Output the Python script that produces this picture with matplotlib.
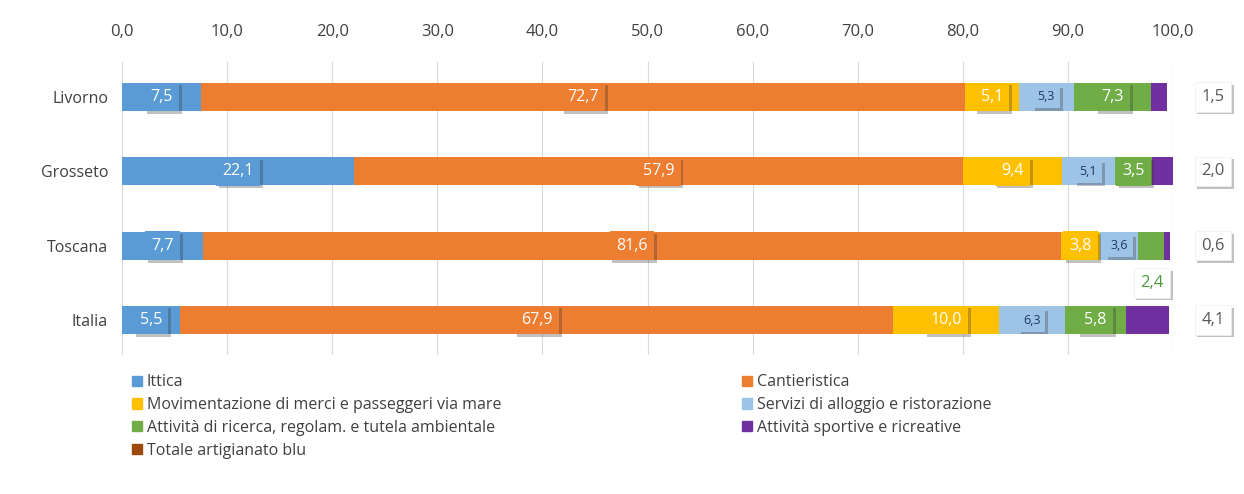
import matplotlib
matplotlib.use("Agg")
import matplotlib.pyplot as plt
import matplotlib.patheffects as pe
from matplotlib.patches import Patch

plt.rcParams['font.family'] = ['Open Sans', 'DejaVu Sans']

categories = ["Livorno", "Grosseto", "Toscana", "Italia"]
series_names = ["Ittica", "Cantieristica", "Movimentazione di merci e passeggeri via mare",
                "Servizi di alloggio e ristorazione", "Attività di ricerca, regolam. e tutela ambientale",
                "Attività sportive e ricreative", "Totale artigianato blu"]
ittica = [7.5, 22.1, 7.7, 5.5]
cantieristica = [72.7, 57.9, 81.6, 67.9]
movimentazione = [5.1, 9.4, 3.8, 10.0]
servizi = [5.3, 5.1, 3.6, 6.3]
ricerca = [7.3, 3.5, 2.4, 5.8]
sportive = [1.5, 2.0, 0.6, 4.1]
totale = [0.0, 0.0, 0.0, 0.0]
xticks = [0, 10, 20, 30, 40, 50, 60, 70, 80, 90, 100]

colors = ["#5B9BD5", "#ED7D31", "#FFC000", "#9DC3E6", "#70AD47", "#7030A0", "#9E480E"]
txtcolors = ["white", "white", "white", "#1F3864", "white", "#595959", "white"]
fsizes = [11.5, 11.5, 11.5, 9, 11.5, 11.5, 11.5]

data = [ittica, cantieristica, movimentazione, servizi, ricerca, sportive, totale]

fig = plt.figure(figsize=(12.44, 4.94), dpi=100)
ax = fig.add_axes([122/1244, 1-355/494, (1173-122)/1244, (355-62)/494])

ypos = list(range(len(categories)))
left = [0.0]*len(categories)
bh = 0.38
shadow = [pe.withSimplePatchShadow(offset=(2, -2), shadow_rgbFace='#333333', alpha=0.3)]

def fmt(v):
    return f"{v:.1f}".replace(".", ",")

for si, vals in enumerate(data):
    ax.barh(ypos, vals, left=left, height=bh, color=colors[si], zorder=3,
            label=series_names[si])
    if si < 6:
        for i, v in enumerate(vals):
            cx = left[i] + v/2
            y = ypos[i]
            if si == 5:
                t = ax.text(103.8, y, fmt(v), ha='center', va='center', fontsize=12,
                            color="#595959", zorder=6,
                            bbox=dict(boxstyle='square,pad=0.4', fc='white', ec='#eeeeee', lw=0.5))
                t.get_bbox_patch().set_path_effects(shadow)
            elif si == 4 and categories[i] == "Toscana":
                t = ax.text(98.0, y + 0.5, fmt(v), ha='center', va='center', fontsize=12,
                            color="#4E9A3A", zorder=6,
                            bbox=dict(boxstyle='square,pad=0.4', fc='white', ec='#eeeeee', lw=0.5))
                t.get_bbox_patch().set_path_effects(shadow)
            else:
                t = ax.text(cx, y, fmt(v), ha='center', va='center', fontsize=fsizes[si],
                            color=txtcolors[si], zorder=6,
                            bbox=dict(boxstyle='square,pad=0.4', fc=colors[si], ec='none'))
                t.get_bbox_patch().set_path_effects(shadow)
    left = [l + v for l, v in zip(left, vals)]

ax.set_xlim(0, 100)
ax.set_ylim(3.47, -0.47)
ax.set_yticks(ypos)
ax.set_yticklabels(categories, fontsize=11.5, color="#404040")
ax.set_xticks(xticks)
ax.set_xticklabels([fmt(x) for x in xticks], fontsize=12, color="#404040")
ax.xaxis.tick_top()
ax.tick_params(axis='x', length=0, pad=16)
ax.tick_params(axis='y', length=0, pad=10)
ax.grid(axis='x', color='#d9d9d9', lw=0.8, zorder=0)
for s in ax.spines.values():
    s.set_visible(False)

handles = [Patch(color=c) for c in colors]
order1 = [0, 2, 4, 6]
order2 = [1, 3, 5]
kw = dict(loc='upper left', frameon=False, fontsize=11.5, handlelength=0.6, handleheight=0.6,
          handletextpad=0.3, labelspacing=0.42, labelcolor="#404040", borderaxespad=0)
fig.legend([handles[i] for i in order1], [series_names[i] for i in order1],
           bbox_to_anchor=(126/1244, 1-368/494), **kw)
fig.legend([handles[i] for i in order2], [series_names[i] for i in order2],
           bbox_to_anchor=(736/1244, 1-368/494), **kw)

fig.savefig("out.png", dpi=100)
